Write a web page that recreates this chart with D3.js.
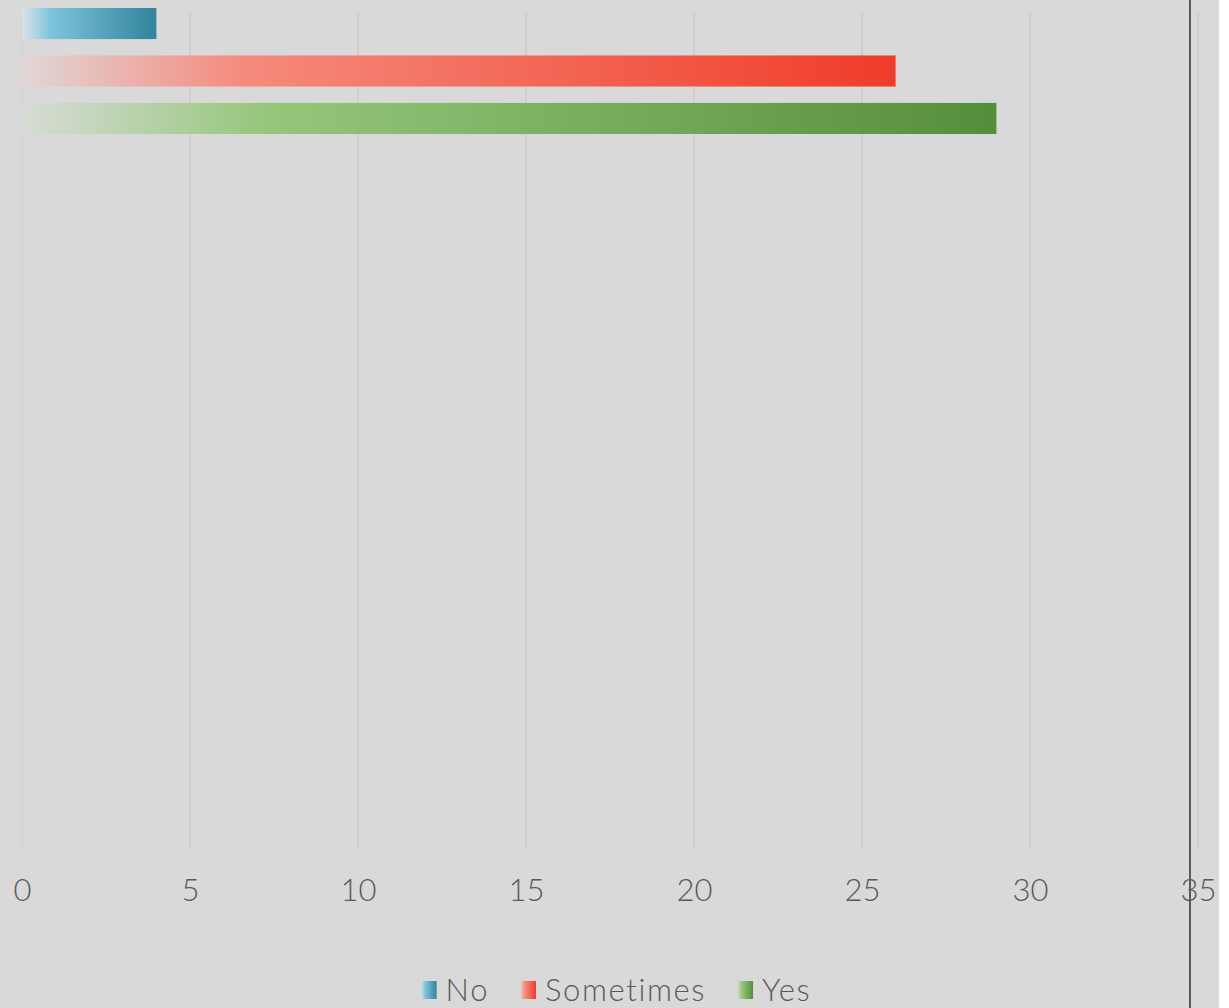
<!DOCTYPE html>
<html>
<head>
<meta charset="utf-8">
<script src="https://cdn.jsdelivr.net/npm/d3@7"></script>
<style>
  html, body { margin: 0; padding: 0; background: #ffffff; }
  svg { display: block; }
</style>
</head>
<body>
<svg id="chart" width="1229" height="1008"></svg>
<script>
// ---- data ----
const series = ["No", "Sometimes", "Yes"];
const values = [4, 26, 29];
const xTicks = [0, 5, 10, 15, 20, 25, 30, 35];
const gradientStops = [
  ["#d8e4e7", "#7cc3db", "#31849b"],
  ["#e0d7d7", "#f58b7d", "#f03c28"],
  ["#d7dcd6", "#95c77b", "#558e3a"]
];

const W = 1229, H = 1008;
const svg = d3.select("#chart");
const font = "Lato, 'Noto Sans', sans-serif";
const textColor = "#595959";

// background
svg.append("rect").attr("x", 0).attr("y", 0).attr("width", 1219).attr("height", H).attr("fill", "#d9d9d9");

const x = d3.scaleLinear().domain([0, 35]).range([22, 1198]);
const y = d3.scaleBand().domain(series).range([8, 134]).paddingInner(0.345).paddingOuter(0);

// gradients
const defs = svg.append("defs");
series.forEach((s, i) => {
  const g = defs.append("linearGradient").attr("id", "grad" + i)
    .attr("x1", "0%").attr("y1", "0%").attr("x2", "100%").attr("y2", "0%");
  const offs = i === 0 ? [0, 0.22, 1] : [0, 0.25, 1];
  gradientStops[i].forEach((c, k) => g.append("stop").attr("offset", offs[k]).attr("stop-color", c));
  const lg = defs.append("linearGradient").attr("id", "lgrad" + i)
    .attr("x1", "0%").attr("y1", "0%").attr("x2", "100%").attr("y2", "0%");
  gradientStops[i].forEach((c, k) => lg.append("stop").attr("offset", [0, 0.3, 1][k]).attr("stop-color", c));
});

// gridlines
svg.append("g").selectAll("line").data(xTicks).join("line")
  .attr("x1", d => x(d)).attr("x2", d => x(d))
  .attr("y1", 13).attr("y2", 849)
  .attr("stroke", d => d === 0 ? "#d2d2d2" : "#c9c9c9")
  .attr("stroke-width", 1.3);

// bars
svg.append("g").selectAll("rect").data(series).join("rect")
  .attr("x", x(0))
  .attr("y", d => y(d))
  .attr("width", (d, i) => x(values[i]) - x(0))
  .attr("height", y.bandwidth())
  .attr("fill", (d, i) => `url(#grad${i})`);

// axis
const axis = d3.axisBottom(x).tickValues(xTicks).tickSize(0).tickPadding(0);
const ag = svg.append("g").attr("transform", "translate(0,901)").call(axis);
ag.select(".domain").remove();
ag.selectAll("text")
  .attr("y", 0).attr("dy", 0)
  .attr("fill", textColor)
  .style("font-family", font)
  .style("font-weight", 300)
  .style("font-size", "31px");

// vertical dark line
svg.append("line").attr("x1", 1190).attr("x2", 1190).attr("y1", 0).attr("y2", H)
  .attr("stroke", "#595959").attr("stroke-width", 2);

// legend
const leg = svg.append("g");
let cx = 0;
series.forEach((s, i) => {
  const gi = leg.append("g");
  gi.append("rect").attr("x", 0).attr("y", 981).attr("width", 16).attr("height", 18)
    .attr("fill", `url(#lgrad${i})`);
  const t = gi.append("text").attr("x", 25).attr("y", 1001).text(s)
    .attr("fill", textColor).style("font-family", font).style("font-weight", 300)
    .style("font-size", "31px").style("letter-spacing", "1.6px");
  const w = 25 + t.node().getComputedTextLength();
  gi.attr("transform", `translate(${cx},0)`);
  cx += w + 31;
});
const totalW = cx - 31;
leg.attr("transform", `translate(${616 - totalW / 2},0)`);
</script>
</body>
</html>
